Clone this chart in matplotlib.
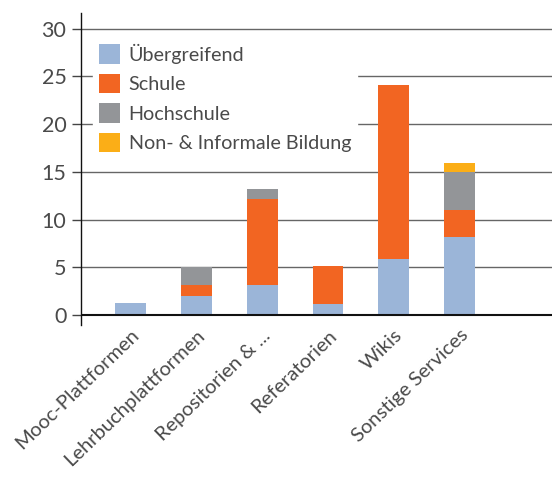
import matplotlib
matplotlib.use("Agg")
import numpy as np
import matplotlib.pyplot as plt

categories = ["Mooc-Plattformen", "Lehrbuchplattformen", "Repositorien & ...",
              "Referatorien", "Wikis", "Sonstige Services"]
uebergreifend = [1.25, 2.0, 3.15, 1.15, 5.9, 8.15]
schule = [0.0, 1.15, 9.0, 4.0, 18.2, 2.85]
hochschule = [0.0, 1.85, 1.05, 0.0, 0.0, 4.0]
non_informal = [0.0, 0.0, 0.0, 0.0, 0.0, 0.9]
series_names = ["Übergreifend", "Schule", "Hochschule", "Non- & Informale Bildung"]
colors = ["#9BB5D8", "#F26522", "#939598", "#FBAE17"]
yticks = [0, 5, 10, 15, 20, 25, 30]

plt.rcParams['font.family'] = ['Lato', 'DejaVu Sans']

fig = plt.figure(figsize=(5.52, 4.78), dpi=100)
ax = fig.add_axes([0.1467, 0.32, 0.8533, 0.653])

x = np.arange(len(categories))
bottom = np.zeros(len(categories))
for name, vals, c in zip(series_names, [uebergreifend, schule, hochschule, non_informal], colors):
    vals = np.array(vals)
    ax.bar(x, vals, width=0.47, bottom=bottom, color=c, label=name, zorder=3)
    bottom += vals

ax.set_xlim(-0.75, 6.4)
ax.set_ylim(-1.05, 31.65)
ax.set_yticks(yticks)
ax.set_yticklabels([str(t) for t in yticks], fontsize=15.5, color="#4a4a4a")
for t in yticks[1:]:
    ax.axhline(t, color="#666666", lw=1.0, zorder=1)
ax.axhline(0, color="#111111", lw=1.5, zorder=4)
ax.tick_params(axis='y', length=6.5, width=1.0, color="#444444", pad=4)
ax.tick_params(axis='x', length=0, pad=1)
for s in ["top", "right", "bottom"]:
    ax.spines[s].set_visible(False)
ax.spines["left"].set_color("#111111")
ax.spines["left"].set_linewidth(1.0)

ax.set_xticks(x)
ax.set_xticklabels(categories, rotation=44, ha="right", rotation_mode="anchor",
                   fontsize=14.5, color="#4a4a4a")

leg = ax.legend(loc="upper left", bbox_to_anchor=(0.005, 0.952), fontsize=14.2,
                frameon=True, fancybox=False, edgecolor="white", framealpha=1.0,
                handlelength=1.05, handleheight=1.15, labelspacing=0.5,
                handletextpad=0.45, borderpad=0.3)
for txt in leg.get_texts():
    txt.set_color("#4a4a4a")
leg.set_zorder(5)

fig.savefig("out.png", dpi=100)
